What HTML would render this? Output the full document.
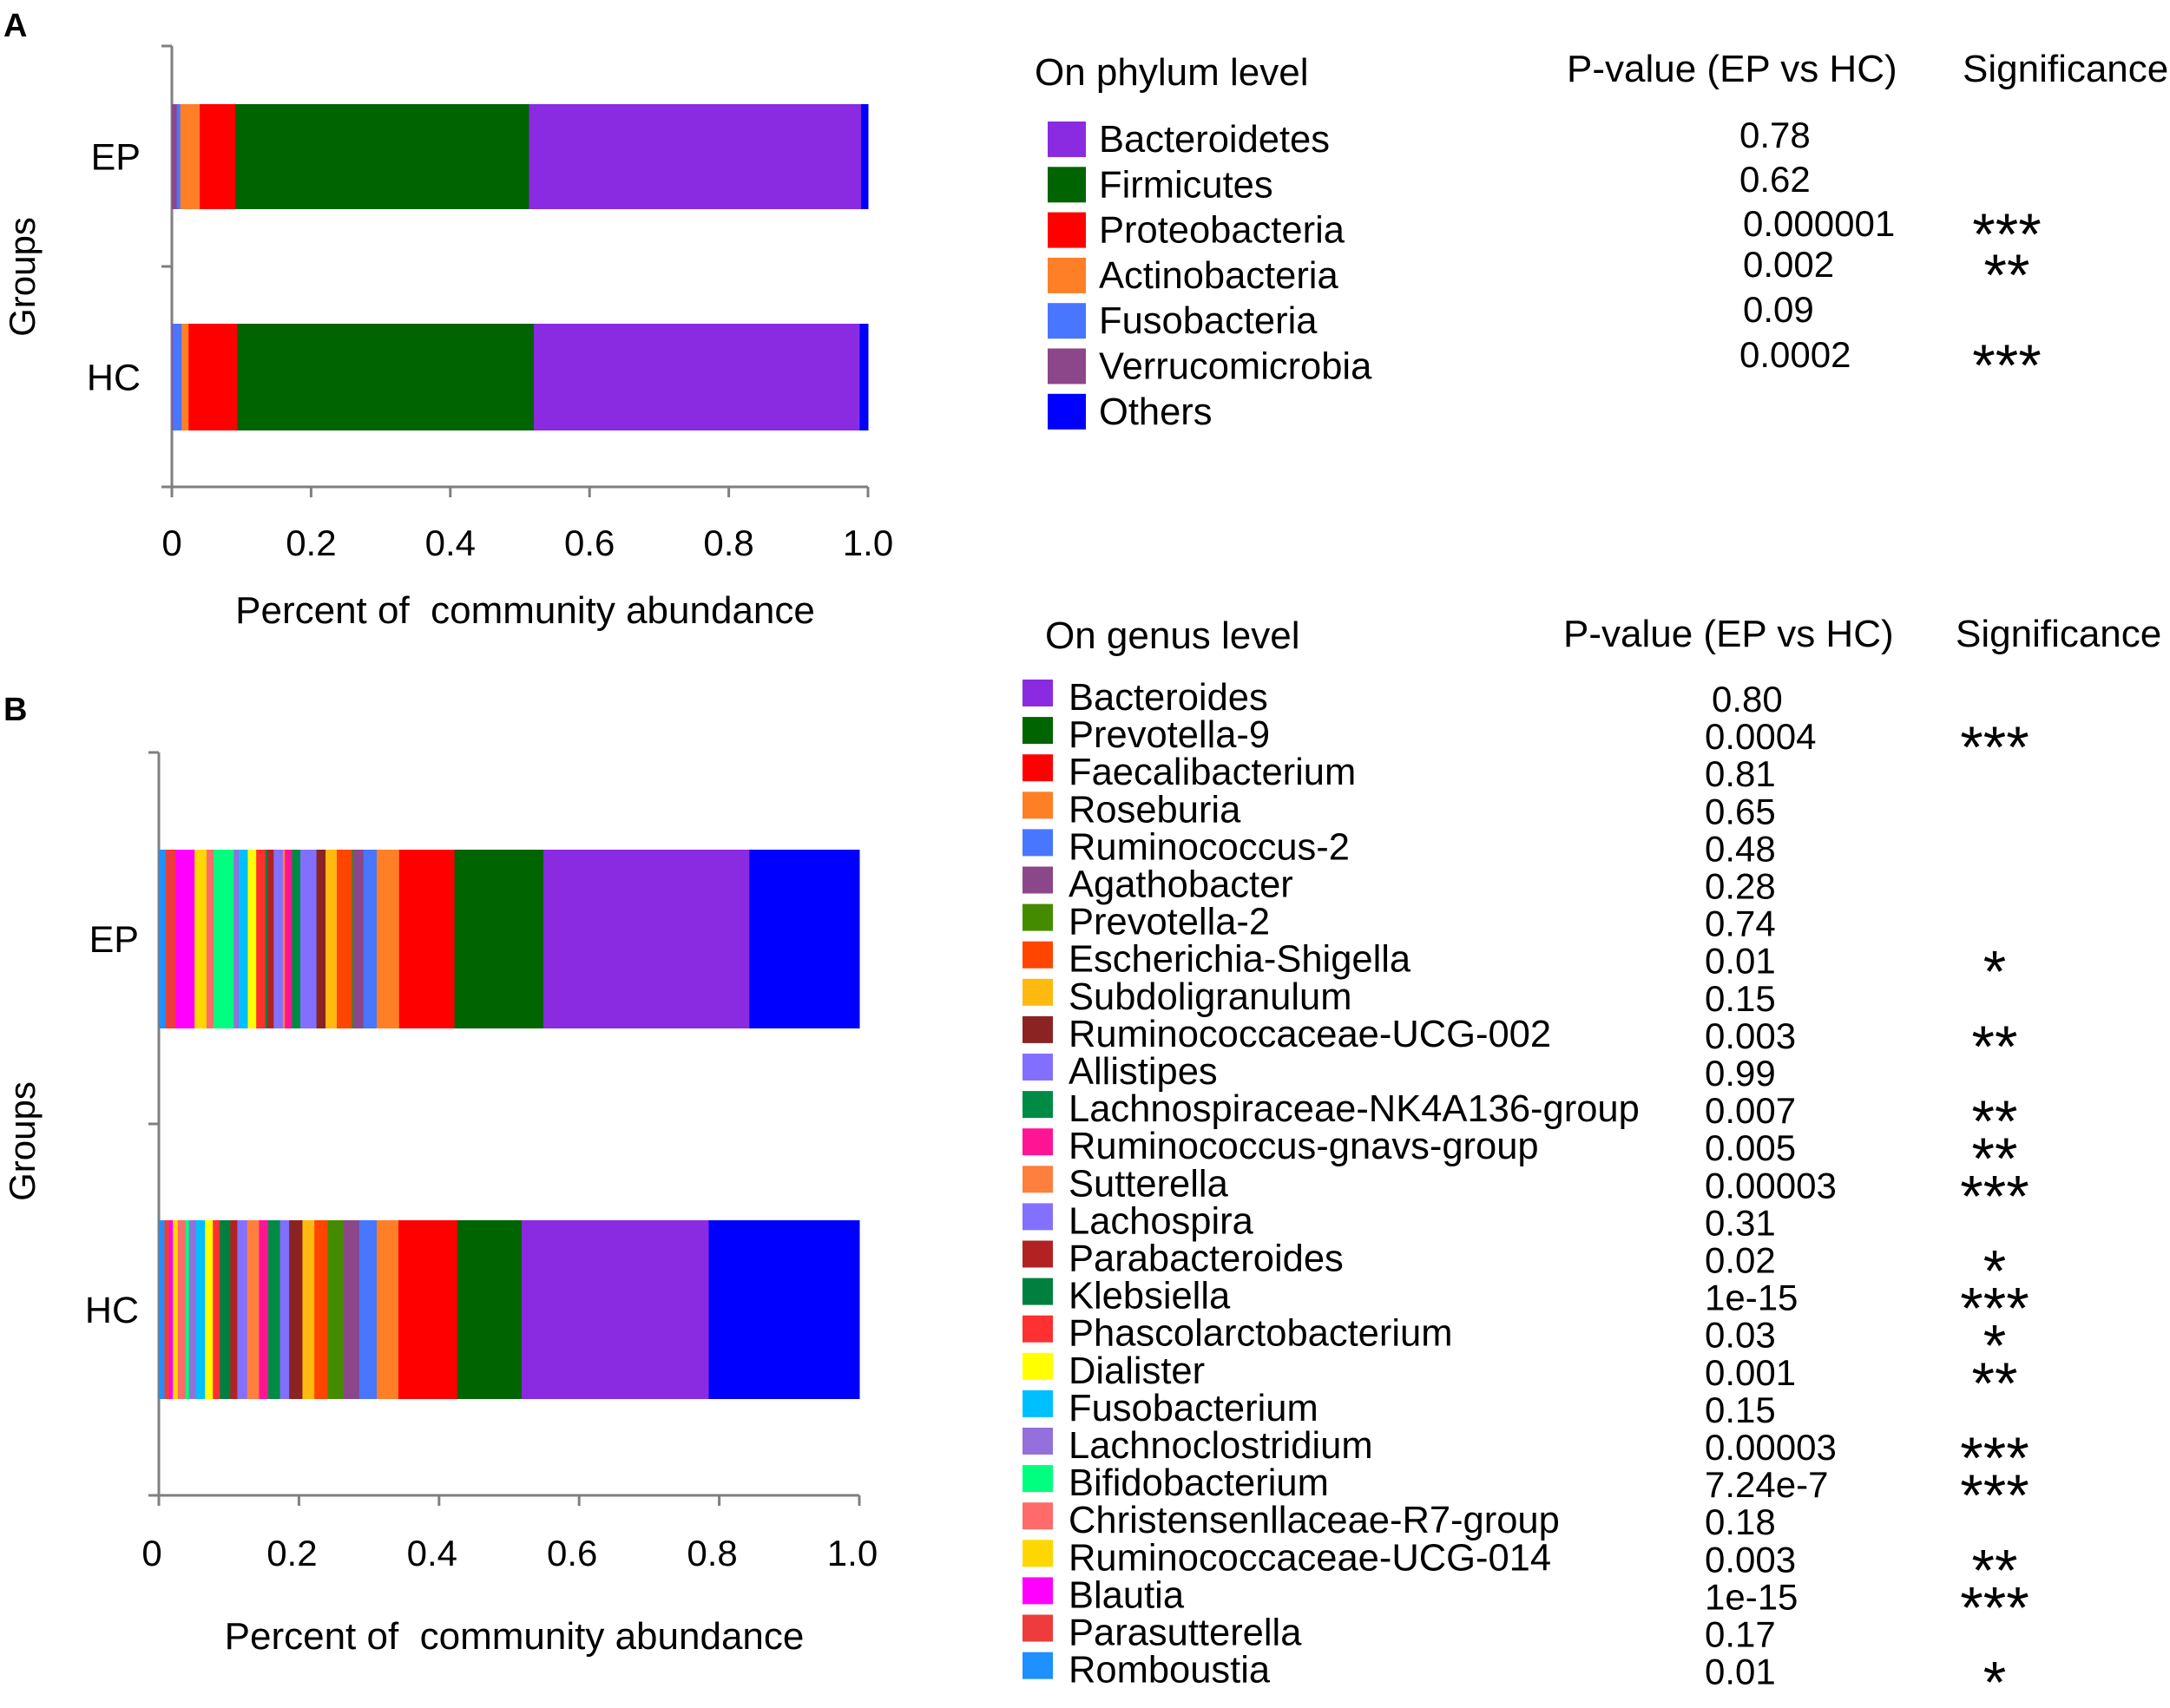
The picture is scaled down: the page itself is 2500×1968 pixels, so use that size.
<!DOCTYPE html>
<html><head><meta charset="utf-8"><style>
html,body{margin:0;padding:0;background:#fff}
svg{display:block}
text{font-family:"Liberation Sans",Arial,sans-serif;fill:#000}
</style></head><body>
<svg id="fig" width="2500" height="1968" viewBox="0 0 2500 1968" xmlns="http://www.w3.org/2000/svg">
<text x="4" y="42" font-size="38" font-weight="bold">A</text>
<text x="4" y="830" font-size="38" font-weight="bold">B</text>
<g id="chartA"></g>
<g id="chartB"></g>
<g id="legA"></g>
<g id="legB"></g>
</svg>
<script>
// ---------- Panel A data (phylum), stacked left to right ----------
const phylumNames = ["Verrucomicrobia","Fusobacteria","Actinobacteria","Proteobacteria","Firmicutes","Bacteroidetes","Others"];
const phylumColors = ["#8b4789","#4876ff","#ff7f27","#ff0000","#006400","#8a2be2","#0000ff"];
const phylumEP = [0.007,0.005,0.028,0.051,0.422,0.477,0.010];
const phylumHC = [0.001,0.013,0.010,0.070,0.426,0.468,0.012];
const groupsLabels = ["EP","HC"];
const xTickValues = [0,0.2,0.4,0.6,0.8,1.0];
const xTickLabels = ["0","0.2","0.4","0.6","0.8","1.0"];

// legend A
const phylumLegendNames = ["Bacteroidetes","Firmicutes","Proteobacteria","Actinobacteria","Fusobacteria","Verrucomicrobia","Others"];
const phylumLegendColors = ["#8a2be2","#006400","#ff0000","#ff7f27","#4876ff","#8b4789","#0000ff"];
const phylumPvalues = ["0.78","0.62","0.000001","0.002","0.09","0.0002"];
const phylumStars = ["","","***","**","","***"];

// ---------- Panel B data (genus), stacked left to right ----------
const genusStack = ["Romboustia","Parasutterella","Blautia","Ruminococcaceae-UCG-014","Christensenllaceae-R7-group","Bifidobacterium","Lachnoclostridium","Fusobacterium","Dialister","Phascolarctobacterium","Klebsiella","Parabacteroides","Lachospira","Sutterella","Ruminococcus-gnavs-group","Lachnospiraceae-NK4A136-group","Allistipes","Ruminococcaceae-UCG-002","Subdoligranulum","Escherichia-Shigella","Prevotella-2","Agathobacter","Ruminococcus-2","Roseburia","Faecalibacterium","Prevotella-9","Bacteroides","Others"];
const genusEP = [0.010,0.014,0.027,0.017,0.010,0.029,0.007,0.013,0.012,0.013,0.003,0.009,0.013,0.003,0.010,0.012,0.023,0.013,0.016,0.021,0.002,0.015,0.019,0.032,0.079,0.127,0.294,0.157];
const genusHC = [0.008,0.007,0.005,0.007,0.011,0.005,0.010,0.013,0.011,0.010,0.015,0.010,0.014,0.017,0.013,0.017,0.013,0.019,0.017,0.019,0.023,0.022,0.025,0.031,0.084,0.092,0.267,0.215];

const genusLegendNames = ["Bacteroides","Prevotella-9","Faecalibacterium","Roseburia","Ruminococcus-2","Agathobacter","Prevotella-2","Escherichia-Shigella","Subdoligranulum","Ruminococcaceae-UCG-002","Allistipes","Lachnospiraceae-NK4A136-group","Ruminococcus-gnavs-group","Sutterella","Lachospira","Parabacteroides","Klebsiella","Phascolarctobacterium","Dialister","Fusobacterium","Lachnoclostridium","Bifidobacterium","Christensenllaceae-R7-group","Ruminococcaceae-UCG-014","Blautia","Parasutterella","Romboustia"];
const genusLegendColors = ["#8a2be2","#006400","#ff0000","#ff7f27","#4876ff","#8b4789","#458b00","#ff4500","#ffb90f","#8b2323","#836fff","#008b45","#ff1493","#ff7f3f","#8470ff","#b22222","#00803f","#ff3030","#ffff00","#00bfff","#9370db","#00ff7f","#ff6a6a","#ffd700","#ff00ff","#ee3b3b","#1e90ff"];
const genusPvalues = ["0.80","0.0004","0.81","0.65","0.48","0.28","0.74","0.01","0.15","0.003","0.99","0.007","0.005","0.00003","0.31","0.02","1e-15","0.03","0.001","0.15","0.00003","7.24e-7","0.18","0.003","1e-15","0.17","0.01"];
const genusStars = ["","***","","","","","","*","","**","","**","**","***","","*","***","*","**","","***","***","","**","***","","*"];

const NS="http://www.w3.org/2000/svg";
function mk(tag,attrs,parent){const e=document.createElementNS(NS,tag);for(const k in attrs)e.setAttribute(k,attrs[k]);parent.appendChild(e);return e;}
function colorOfGenus(n){if(n==="Others")return "#0000ff";return genusLegendColors[genusLegendNames.indexOf(n)];}

function drawChart(g,cfg){
  const x=v=>cfg.x0+v*(cfg.x1-cfg.x0);
  let ya=mk('line',{x1:cfg.x0,y1:cfg.yTop,x2:cfg.x0,y2:cfg.yBot,stroke:'#7f7f7f','stroke-width':3},g);
  
  
  [cfg.yTop,(cfg.yTop+cfg.yBot)/2,cfg.yBot].forEach(y=>{
    let t=mk('line',{x1:cfg.x0-12,y1:y,x2:cfg.x0,y2:y,stroke:'#7f7f7f','stroke-width':3},g);
    
    
  });
  let xa=mk('line',{x1:cfg.x0-12,y1:cfg.yBot,x2:x(1),y2:cfg.yBot,stroke:'#7f7f7f','stroke-width':3},g);
  
  
  xTickValues.forEach((v,i)=>{
    let t=mk('line',{x1:x(v),y1:cfg.yBot,x2:x(v),y2:cfg.yBot+12,stroke:'#7f7f7f','stroke-width':3},g);
    
    
    let l=mk('text',{x:x(v)-cfg.lblShift,y:cfg.tickY,'font-size':42,'text-anchor':'middle'},g);
    l.textContent=xTickLabels[i];
    
    
  });
  let xt=mk('text',{x:(cfg.x0+x(1))/2+6,y:cfg.titleY,'font-size':44,'text-anchor':'middle'},g);
  xt.textContent="Percent of\u00a0 community abundance";
  
  
  let yt=mk('text',{x:0,y:0,'font-size':42,'text-anchor':'middle',transform:`translate(40,${cfg.groupsY}) rotate(-90)`},g);
  yt.textContent="Groups";
  
  
  cfg.series.forEach((vals,gi)=>{
    const [by0,by1]=cfg.bars[gi];
    let lab=mk('text',{x:cfg.labX,y:(by0+by1)/2+15,'font-size':43,'text-anchor':'end'},g);
    lab.textContent=groupsLabels[gi];
    
    
    let acc=0;
    vals.forEach((v,i)=>{
      const r=mk('rect',{x:x(acc),y:by0,width:Math.max(0,x(acc+v)-x(acc))+0.5,height:by1-by0,fill:cfg.colors[i]},g);
      
      
      acc+=v;
    });
  });
}

drawChart(document.getElementById('chartA'),{x0:198,x1:1000,yTop:53,yBot:561,tickY:640,titleY:718,groupsY:319,labX:162,lblShift:0,
  bars:[[120,241],[373,496]],series:[phylumEP,phylumHC],colors:phylumColors,names:phylumNames});
drawChart(document.getElementById('chartB'),{x0:183,x1:990,yTop:867,yBot:1723,tickY:1804,titleY:1900,groupsY:1315,labX:160,lblShift:8,
  bars:[[979,1185],[1406,1612]],series:[genusEP,genusHC],colors:genusStack.map(colorOfGenus),names:genusStack});

function header(g,x,y,t,name){const e=mk('text',{x:x,y:y,'font-size':44},g);e.textContent=t;}

// Legend A
(function(){
  const g=document.getElementById('legA');
  header(g,1192,98,"On phylum level","phylum-legend-title");
  header(g,1805,94,"P-value (EP vs HC)","phylum-pvalue-header");
  header(g,2261,94,"Significance","phylum-significance-header");
  phylumLegendNames.forEach((n,i)=>{
    const cy=160+i*52.3;
    const s=mk('rect',{x:1207,y:cy-20,width:44,height:41,fill:phylumLegendColors[i]},g);
    
    
    const t=mk('text',{x:1266,y:cy+15,'font-size':43.5},g);t.textContent=n;
    
    
  });
  const pY=[155,206,257,304,356,408];
  const pX=[2004,2004,2008,2008,2008,2004];
  phylumPvalues.forEach((p,i)=>{
    const t=mk('text',{x:pX[i],y:pY[i]+15,'font-size':42},g);t.textContent=p;
    
    
    if(phylumStars[i]){const s=mk('text',{x:2312,y:pY[i]+36,'font-size':68,'text-anchor':'middle'},g);s.textContent=phylumStars[i];
      
      }
  });
})();

// Legend B
(function(){
  const g=document.getElementById('legB');
  header(g,1204,747,"On genus level","genus-legend-title");
  header(g,1801,745,"P-value (EP vs HC)","genus-pvalue-header");
  header(g,2253,745,"Significance","genus-significance-header");
  genusLegendNames.forEach((n,i)=>{
    const cy=803+i*43.1;
    const s=mk('rect',{x:1178,y:cy-20,width:35,height:31,fill:genusLegendColors[i]},g);
    
    
    const t=mk('text',{x:1231,y:cy+15,'font-size':43.5},g);t.textContent=n;
    
    
    const p=mk('text',{x:i===0?1972:1964,y:cy+17,'font-size':42},g);p.textContent=genusPvalues[i];
    
    
    if(genusStars[i]){const st=mk('text',{x:2298,y:cy+38,'font-size':68,'text-anchor':'middle'},g);st.textContent=genusStars[i];
      
      }
  });
})();
</script>
</body></html>
